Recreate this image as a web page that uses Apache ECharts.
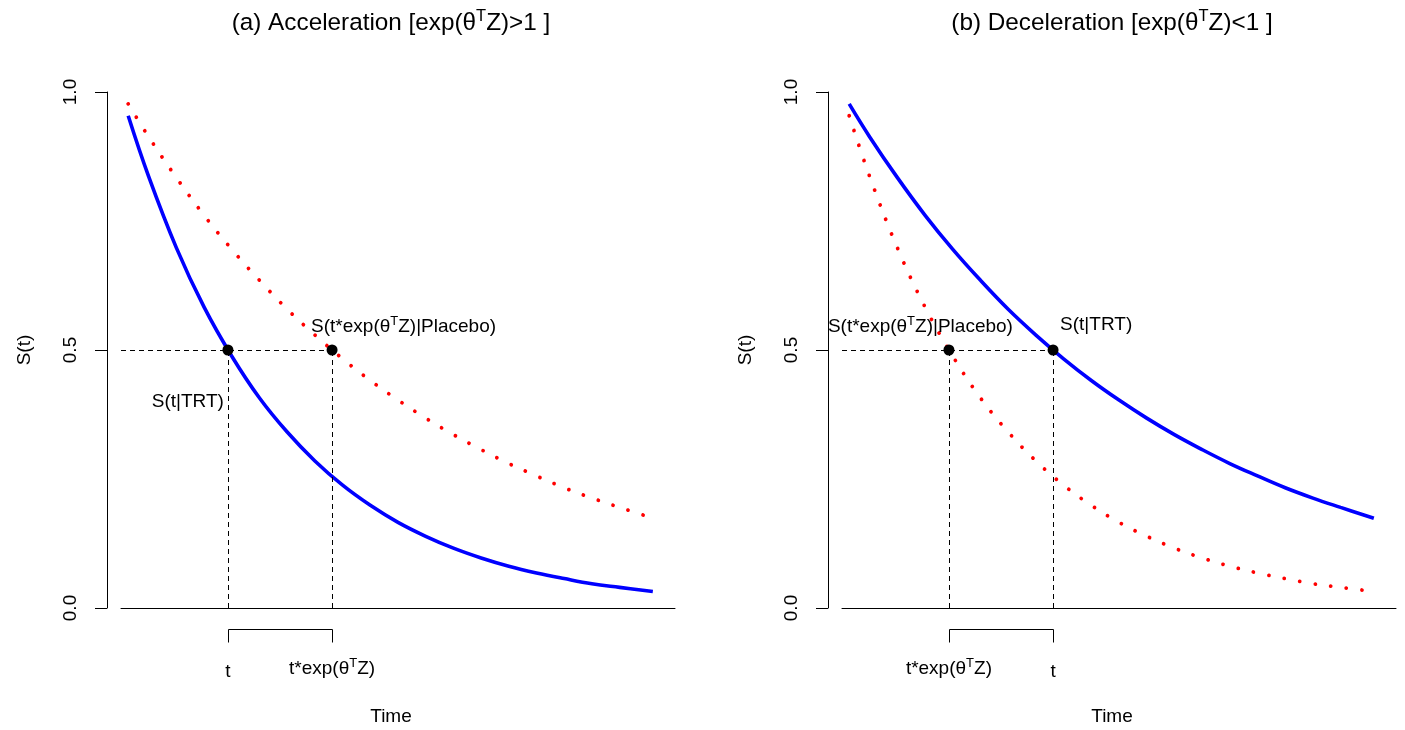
<!DOCTYPE html>
<html><head><meta charset="utf-8">
<script src="https://cdn.jsdelivr.net/npm/echarts@6/dist/echarts.min.js"></script>
<style>html,body{margin:0;padding:0;background:#fff}#c{width:1405px;height:730px}</style>
</head><body><div id="c"></div>
<script>
// ---- data ----
const times    = [0.13, 0.5, 1.0, 1.5, 2.0, 2.5, 3.0, 3.5, 4.0, 4.5, 5.0, 5.5, 6.0, 6.5, 7.0, 7.5, 8.0, 8.5, 9.0, 9.6];
const survFast = [0.954, 0.836, 0.698, 0.583, 0.488, 0.407, 0.341, 0.285, 0.238, 0.199, 0.166, 0.139, 0.116, 0.097, 0.081, 0.068, 0.057, 0.047, 0.040, 0.032];
const survSlow = [0.977, 0.913, 0.834, 0.761, 0.695, 0.635, 0.579, 0.529, 0.483, 0.441, 0.403, 0.368, 0.336, 0.307, 0.280, 0.256, 0.233, 0.213, 0.195, 0.174];
const tEarly = 1.93;   // faster curve reaches S = 0.5
const tLate  = 3.81;   // slower curve reaches S = 0.5
const sMedian = 0.5;
const yTicks = [0, 0.5, 1.0];
const xRange = [0, 10];
const panelTitles = [
  ['(a) Acceleration [exp(θ', 'T', 'Z)>1 ]'],
  ['(b) Deceleration [exp(θ', 'T', 'Z)<1 ]']
];
const labelTRT = 'S(t|TRT)';
const labelPlacebo = ['S(t*exp(θ', 'T', 'Z)|Placebo)'];
const tickT = 't';
const tickExp = ['t*exp(θ', 'T', 'Z)'];
const xName = 'Time', yName = 'S(t)';

// ---- styling ----
const F = '"Liberation Sans", Arial, Helvetica, sans-serif';
const RICH = {
  n: {fontSize: 19, fontFamily: F, color: '#000', lineHeight: 24, textBorderWidth: 0},
  s: {fontSize: 13, fontFamily: F, color: '#000', lineHeight: 13, verticalAlign: 'top', textBorderWidth: 0}
};
const RICH_T = {
  n: {fontSize: 24.3, fontFamily: F, color: '#000', lineHeight: 30},
  s: {fontSize: 16.5, fontFamily: F, color: '#000', lineHeight: 16.5, verticalAlign: 'top'}
};
const sup = a => '{n|' + a[0] + '}{s|' + a[1] + '}{n|' + a[2] + '}';

const gridLefts = [121, 842];
const GW = 554, GT = 92, GH = 516;

const panels = [
  {blue: survFast, red: survSlow, trt: tEarly, plc: tLate,
   trtLabel: {align: 'right', offset: [-4, 52]}, plcLabel: {align: 'left', offset: [-21, -23]},
   brLeft: 't', brRight: 'e'},
  {blue: survSlow, red: survFast, trt: tLate, plc: tEarly,
   trtLabel: {align: 'left', offset: [7, -25]}, plcLabel: {align: 'right', offset: [64, -23]},
   brLeft: 'e', brRight: 't'}
];

const snap = v => Math.round(v) + 0.5;

const grids = [], xAxes = [], yAxes = [], series = [], graphics = [];
panels.forEach((p, i) => {
  grids.push({left: gridLefts[i], top: GT, width: GW, height: GH, outerBoundsMode: 'none', containLabel: false});
  xAxes.push({type: 'value', gridIndex: i, min: xRange[0], max: xRange[1],
    axisLine: {show: true, onZero: false, lineStyle: {color: '#000', width: 1}},
    axisTick: {show: false}, axisLabel: {show: false}, splitLine: {show: false},
    name: xName, nameLocation: 'middle', nameGap: 99,
    nameTextStyle: {fontSize: 19, fontFamily: F, color: '#000', padding: [0, 14, 0, 0]}});
  yAxes.push({type: 'value', gridIndex: i, min: yTicks[0], max: yTicks[yTicks.length - 1], interval: yTicks[1] - yTicks[0],
    offset: 14, position: 'left',
    axisLine: {show: true, onZero: false, lineStyle: {color: '#000', width: 1}},
    axisTick: {show: true, length: 12, lineStyle: {color: '#000'}},
    axisLabel: {show: true, rotate: 90, margin: 27, fontSize: 19, fontFamily: F, color: '#000',
      formatter: v => v.toFixed(1)},
    splitLine: {show: false},
    name: yName, nameLocation: 'middle', nameGap: 73, nameRotate: 90,
    nameTextStyle: {fontSize: 19, fontFamily: F, color: '#000'}});

  const ax = {xAxisIndex: i, yAxisIndex: i};
  series.push(Object.assign({type: 'line', data: times.map((t, k) => [t, p.blue[k]]),
    showSymbol: false, smooth: 0.4, silent: true, z: 3,
    lineStyle: {color: '#0000ff', width: 3.6}}, ax));
  series.push(Object.assign({type: 'line', data: times.map((t, k) => [t, p.red[k]]),
    showSymbol: false, smooth: 0.4, silent: true, z: 3,
    lineStyle: {color: '#ff0000', width: 3.8, type: [0.01, 15.7], cap: 'round'}}, ax));
  // dashed reference lines (pixel-snapped)
  series.push(Object.assign({type: 'custom', silent: true, z: 4, data: [[tEarly, tLate, sMedian]],
    renderItem: (params, api) => {
      const e = api.value(0), l = api.value(1), s = api.value(2);
      const o = api.coord([xRange[0], s]), pe = api.coord([e, s]), pl = api.coord([l, s]);
      const be = api.coord([e, yTicks[0]]), bl = api.coord([l, yTicks[0]]);
      const st = {stroke: '#000', lineWidth: 1, lineDash: [5, 4], fill: null};
      const seg = (x1, y1, x2, y2) => ({type: 'line', shape: {x1, y1, x2, y2}, style: st});
      const yh = snap(o[1]);
      return {type: 'group', children: [
        seg(o[0], yh, pl[0], yh),
        seg(snap(pe[0]), be[1], snap(pe[0]), pe[1]),
        seg(snap(pl[0]), bl[1], snap(pl[0]), pl[1])
      ]};
    }}, ax));
  // median points with annotations
  const lab = {show: true, position: ['50%', '50%'], verticalAlign: 'middle', textBorderWidth: 0, opacity: 1};
  series.push(Object.assign({type: 'scatter', symbol: 'circle', symbolSize: 11, z: 6, silent: true,
    itemStyle: {color: '#000', opacity: 1},
    data: [
      {value: [p.trt, sMedian], label: Object.assign({}, lab, {
        align: p.trtLabel.align, offset: p.trtLabel.offset, formatter: labelTRT,
        fontSize: 19, fontFamily: F, color: '#000'})},
      {value: [p.plc, sMedian], label: Object.assign({}, lab, {
        align: p.plcLabel.align, offset: p.plcLabel.offset, formatter: sup(labelPlacebo), rich: RICH, color: '#000'})}
    ]}, ax));
  // bracket under the axis
  series.push(Object.assign({type: 'custom', silent: true, z: 5, data: [[tEarly, tLate]],
    renderItem: (params, api) => {
      const a = api.coord([api.value(0), yTicks[0]]);
      const b = api.coord([api.value(1), yTicks[0]]);
      const ax0 = snap(a[0]), bx0 = snap(b[0]);
      const y1 = Math.round(a[1]) + 21.5, y2 = Math.round(a[1]) + 34.5;
      const mk = (which, x) => which === 't'
        ? {type: 'text', x: x, y: a[1] + 64, style: {text: tickT, fontSize: 19, fontFamily: F, fill: '#000', align: 'center', verticalAlign: 'middle'}}
        : {type: 'text', x: x, y: a[1] + 61, style: {text: sup(tickExp), rich: RICH, align: 'center', verticalAlign: 'middle'}};
      return {type: 'group', children: [
        {type: 'polyline', shape: {points: [[ax0, y2], [ax0, y1], [bx0, y1], [bx0, y2]]},
          style: {stroke: '#000', lineWidth: 1, fill: null}},
        mk(p.brLeft, a[0]), mk(p.brRight, b[0])
      ]};
    }}, ax));

  graphics.push({type: 'text', x: gridLefts[i] + GW / 2 - 7, y: 23,
    style: {text: sup(panelTitles[i]), rich: RICH_T, align: 'center', verticalAlign: 'middle'}});
});

const chart = echarts.init(document.getElementById('c'), null, {renderer: 'canvas'});
chart.setOption({
  animation: false,
  backgroundColor: '#fff',
  grid: grids, xAxis: xAxes, yAxis: yAxes, series: series, graphic: graphics
});
</script>
</body></html>
